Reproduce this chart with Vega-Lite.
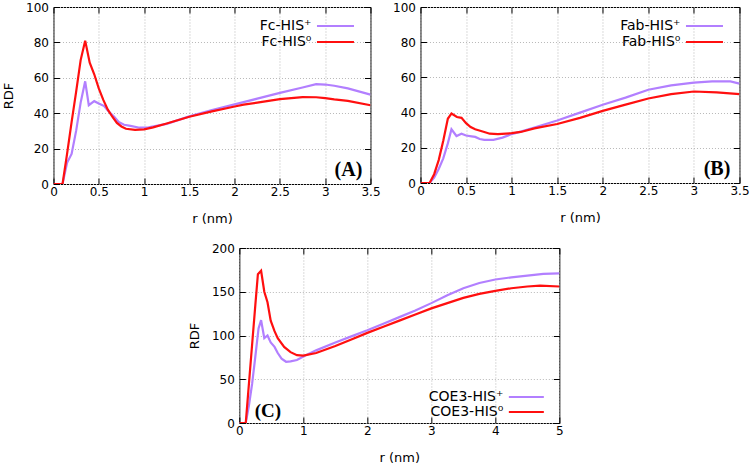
{
  "$schema": "https://vega.github.io/schema/vega-lite/v6.json",
  "padding": {"left": 2, "top": 0, "right": 0, "bottom": 0},
  "background": "white",
  "config": {
    "font": "DejaVu Sans",
    "view": {"stroke": "black", "strokeWidth": 1},
    "axis": {
      "domain": false, "grid": true, "gridColor": "#b8b8b8", "gridDash": [1, 2], "gridWidth": 1,
      "tickColor": "black", "tickSize": -6, "tickWidth": 1,
      "labelFontSize": 12, "labelColor": "black", "labelFlush": false,
      "titleFontSize": 13, "titleFontWeight": "normal", "titleColor": "black"
    },
    "axisX": {"labelPadding": 8, "titlePadding": 15},
    "axisY": {"labelPadding": 11, "titlePadding": 10},
    "legend": {"labelFontSize": 14, "labelColor": "black", "labelLimit": 0}
  },
  "datasets": {
    "A": [
      {"s": "Fc-HIS⁺", "r": 0, "g": 0}, {"s": "Fc-HIS⁺", "r": 0.05, "g": 0}, {"s": "Fc-HIS⁺", "r": 0.1, "g": 0},
      {"s": "Fc-HIS⁺", "r": 0.15, "g": 12}, {"s": "Fc-HIS⁺", "r": 0.2, "g": 17}, {"s": "Fc-HIS⁺", "r": 0.25, "g": 30},
      {"s": "Fc-HIS⁺", "r": 0.3, "g": 46}, {"s": "Fc-HIS⁺", "r": 0.35, "g": 58}, {"s": "Fc-HIS⁺", "r": 0.39, "g": 44.5},
      {"s": "Fc-HIS⁺", "r": 0.45, "g": 46.8}, {"s": "Fc-HIS⁺", "r": 0.5, "g": 45.5}, {"s": "Fc-HIS⁺", "r": 0.56, "g": 44},
      {"s": "Fc-HIS⁺", "r": 0.6, "g": 41.5}, {"s": "Fc-HIS⁺", "r": 0.67, "g": 38}, {"s": "Fc-HIS⁺", "r": 0.72, "g": 35},
      {"s": "Fc-HIS⁺", "r": 0.78, "g": 33.5}, {"s": "Fc-HIS⁺", "r": 0.85, "g": 32.8}, {"s": "Fc-HIS⁺", "r": 0.95, "g": 31.8},
      {"s": "Fc-HIS⁺", "r": 1.05, "g": 32}, {"s": "Fc-HIS⁺", "r": 1.25, "g": 34}, {"s": "Fc-HIS⁺", "r": 1.5, "g": 38.2},
      {"s": "Fc-HIS⁺", "r": 1.75, "g": 41.8}, {"s": "Fc-HIS⁺", "r": 2.0, "g": 45}, {"s": "Fc-HIS⁺", "r": 2.25, "g": 48.2},
      {"s": "Fc-HIS⁺", "r": 2.5, "g": 51.5}, {"s": "Fc-HIS⁺", "r": 2.75, "g": 54.5}, {"s": "Fc-HIS⁺", "r": 2.9, "g": 56.4},
      {"s": "Fc-HIS⁺", "r": 3.0, "g": 56.2}, {"s": "Fc-HIS⁺", "r": 3.1, "g": 55.5}, {"s": "Fc-HIS⁺", "r": 3.25, "g": 54},
      {"s": "Fc-HIS⁺", "r": 3.5, "g": 50.5},
      {"s": "Fc-HIS⁰", "r": 0, "g": 0}, {"s": "Fc-HIS⁰", "r": 0.05, "g": 0}, {"s": "Fc-HIS⁰", "r": 0.1, "g": 0},
      {"s": "Fc-HIS⁰", "r": 0.15, "g": 17}, {"s": "Fc-HIS⁰", "r": 0.2, "g": 35}, {"s": "Fc-HIS⁰", "r": 0.25, "g": 52},
      {"s": "Fc-HIS⁰", "r": 0.3, "g": 70}, {"s": "Fc-HIS⁰", "r": 0.35, "g": 81}, {"s": "Fc-HIS⁰", "r": 0.4, "g": 68.5},
      {"s": "Fc-HIS⁰", "r": 0.45, "g": 62}, {"s": "Fc-HIS⁰", "r": 0.5, "g": 54}, {"s": "Fc-HIS⁰", "r": 0.55, "g": 47.5},
      {"s": "Fc-HIS⁰", "r": 0.6, "g": 42}, {"s": "Fc-HIS⁰", "r": 0.65, "g": 38}, {"s": "Fc-HIS⁰", "r": 0.7, "g": 34.5},
      {"s": "Fc-HIS⁰", "r": 0.75, "g": 32.5}, {"s": "Fc-HIS⁰", "r": 0.8, "g": 31.2}, {"s": "Fc-HIS⁰", "r": 0.9, "g": 30.6},
      {"s": "Fc-HIS⁰", "r": 1.0, "g": 30.9}, {"s": "Fc-HIS⁰", "r": 1.1, "g": 32}, {"s": "Fc-HIS⁰", "r": 1.25, "g": 34.2},
      {"s": "Fc-HIS⁰", "r": 1.5, "g": 38}, {"s": "Fc-HIS⁰", "r": 1.75, "g": 41}, {"s": "Fc-HIS⁰", "r": 2.0, "g": 43.8},
      {"s": "Fc-HIS⁰", "r": 2.1, "g": 44.8}, {"s": "Fc-HIS⁰", "r": 2.25, "g": 46}, {"s": "Fc-HIS⁰", "r": 2.5, "g": 48},
      {"s": "Fc-HIS⁰", "r": 2.75, "g": 49.1}, {"s": "Fc-HIS⁰", "r": 2.9, "g": 49}, {"s": "Fc-HIS⁰", "r": 3.0, "g": 48.5},
      {"s": "Fc-HIS⁰", "r": 3.1, "g": 47.8}, {"s": "Fc-HIS⁰", "r": 3.25, "g": 47}, {"s": "Fc-HIS⁰", "r": 3.5, "g": 44.5}
    ],
    "B": [
      {"s": "Fab-HIS⁺", "r": 0, "g": 0}, {"s": "Fab-HIS⁺", "r": 0.05, "g": 0}, {"s": "Fab-HIS⁺", "r": 0.1, "g": 0},
      {"s": "Fab-HIS⁺", "r": 0.15, "g": 3}, {"s": "Fab-HIS⁺", "r": 0.2, "g": 8}, {"s": "Fab-HIS⁺", "r": 0.25, "g": 14},
      {"s": "Fab-HIS⁺", "r": 0.3, "g": 22.5}, {"s": "Fab-HIS⁺", "r": 0.34, "g": 30.5}, {"s": "Fab-HIS⁺", "r": 0.395, "g": 26.7},
      {"s": "Fab-HIS⁺", "r": 0.45, "g": 28}, {"s": "Fab-HIS⁺", "r": 0.5, "g": 27}, {"s": "Fab-HIS⁺", "r": 0.56, "g": 26.5},
      {"s": "Fab-HIS⁺", "r": 0.6, "g": 26.2}, {"s": "Fab-HIS⁺", "r": 0.65, "g": 25}, {"s": "Fab-HIS⁺", "r": 0.7, "g": 24.5},
      {"s": "Fab-HIS⁺", "r": 0.8, "g": 24.5}, {"s": "Fab-HIS⁺", "r": 0.9, "g": 25.8}, {"s": "Fab-HIS⁺", "r": 1.0, "g": 27.8},
      {"s": "Fab-HIS⁺", "r": 1.1, "g": 29.2}, {"s": "Fab-HIS⁺", "r": 1.25, "g": 31.5}, {"s": "Fab-HIS⁺", "r": 1.5, "g": 35.5},
      {"s": "Fab-HIS⁺", "r": 1.75, "g": 40}, {"s": "Fab-HIS⁺", "r": 2.0, "g": 44.5}, {"s": "Fab-HIS⁺", "r": 2.25, "g": 48.5},
      {"s": "Fab-HIS⁺", "r": 2.5, "g": 53}, {"s": "Fab-HIS⁺", "r": 2.75, "g": 55.5}, {"s": "Fab-HIS⁺", "r": 3.0, "g": 57},
      {"s": "Fab-HIS⁺", "r": 3.2, "g": 57.7}, {"s": "Fab-HIS⁺", "r": 3.4, "g": 57.7}, {"s": "Fab-HIS⁺", "r": 3.5, "g": 56.5},
      {"s": "Fab-HIS⁰", "r": 0, "g": 0}, {"s": "Fab-HIS⁰", "r": 0.05, "g": 0}, {"s": "Fab-HIS⁰", "r": 0.1, "g": 0},
      {"s": "Fab-HIS⁰", "r": 0.15, "g": 5}, {"s": "Fab-HIS⁰", "r": 0.2, "g": 13}, {"s": "Fab-HIS⁰", "r": 0.25, "g": 24},
      {"s": "Fab-HIS⁰", "r": 0.3, "g": 36.5}, {"s": "Fab-HIS⁰", "r": 0.34, "g": 39.5}, {"s": "Fab-HIS⁰", "r": 0.4, "g": 37.5},
      {"s": "Fab-HIS⁰", "r": 0.45, "g": 37}, {"s": "Fab-HIS⁰", "r": 0.5, "g": 34}, {"s": "Fab-HIS⁰", "r": 0.55, "g": 31.8},
      {"s": "Fab-HIS⁰", "r": 0.6, "g": 30.5}, {"s": "Fab-HIS⁰", "r": 0.7, "g": 29}, {"s": "Fab-HIS⁰", "r": 0.76, "g": 28},
      {"s": "Fab-HIS⁰", "r": 0.85, "g": 27.8}, {"s": "Fab-HIS⁰", "r": 1.0, "g": 28.3}, {"s": "Fab-HIS⁰", "r": 1.1, "g": 29},
      {"s": "Fab-HIS⁰", "r": 1.25, "g": 31}, {"s": "Fab-HIS⁰", "r": 1.5, "g": 33.5}, {"s": "Fab-HIS⁰", "r": 1.75, "g": 37},
      {"s": "Fab-HIS⁰", "r": 2.0, "g": 41}, {"s": "Fab-HIS⁰", "r": 2.25, "g": 44.5}, {"s": "Fab-HIS⁰", "r": 2.5, "g": 48},
      {"s": "Fab-HIS⁰", "r": 2.75, "g": 50.5}, {"s": "Fab-HIS⁰", "r": 3.0, "g": 52}, {"s": "Fab-HIS⁰", "r": 3.25, "g": 51.5},
      {"s": "Fab-HIS⁰", "r": 3.5, "g": 50.5}
    ],
    "C": [
      {"s": "COE3-HIS⁺", "r": 0, "g": 0}, {"s": "COE3-HIS⁺", "r": 0.05, "g": 0}, {"s": "COE3-HIS⁺", "r": 0.1, "g": 0},
      {"s": "COE3-HIS⁺", "r": 0.15, "g": 20}, {"s": "COE3-HIS⁺", "r": 0.2, "g": 45}, {"s": "COE3-HIS⁺", "r": 0.25, "g": 76},
      {"s": "COE3-HIS⁺", "r": 0.3, "g": 108}, {"s": "COE3-HIS⁺", "r": 0.34, "g": 117.5}, {"s": "COE3-HIS⁺", "r": 0.39, "g": 97},
      {"s": "COE3-HIS⁺", "r": 0.44, "g": 100}, {"s": "COE3-HIS⁺", "r": 0.49, "g": 92}, {"s": "COE3-HIS⁺", "r": 0.55, "g": 87},
      {"s": "COE3-HIS⁺", "r": 0.6, "g": 80}, {"s": "COE3-HIS⁺", "r": 0.66, "g": 73.5}, {"s": "COE3-HIS⁺", "r": 0.73, "g": 70},
      {"s": "COE3-HIS⁺", "r": 0.8, "g": 70.5}, {"s": "COE3-HIS⁺", "r": 0.9, "g": 72}, {"s": "COE3-HIS⁺", "r": 1.0, "g": 76},
      {"s": "COE3-HIS⁺", "r": 1.2, "g": 83}, {"s": "COE3-HIS⁺", "r": 1.5, "g": 92}, {"s": "COE3-HIS⁺", "r": 1.75, "g": 99},
      {"s": "COE3-HIS⁺", "r": 2.0, "g": 106}, {"s": "COE3-HIS⁺", "r": 2.25, "g": 113.5}, {"s": "COE3-HIS⁺", "r": 2.5, "g": 121},
      {"s": "COE3-HIS⁺", "r": 2.75, "g": 128.5}, {"s": "COE3-HIS⁺", "r": 3.0, "g": 137}, {"s": "COE3-HIS⁺", "r": 3.25, "g": 146},
      {"s": "COE3-HIS⁺", "r": 3.5, "g": 154}, {"s": "COE3-HIS⁺", "r": 3.75, "g": 160}, {"s": "COE3-HIS⁺", "r": 4.0, "g": 164},
      {"s": "COE3-HIS⁺", "r": 4.25, "g": 166.5}, {"s": "COE3-HIS⁺", "r": 4.5, "g": 168.5}, {"s": "COE3-HIS⁺", "r": 4.75, "g": 170.5},
      {"s": "COE3-HIS⁺", "r": 5.0, "g": 171},
      {"s": "COE3-HIS⁰", "r": 0, "g": 0}, {"s": "COE3-HIS⁰", "r": 0.05, "g": 0}, {"s": "COE3-HIS⁰", "r": 0.1, "g": 0},
      {"s": "COE3-HIS⁰", "r": 0.15, "g": 45}, {"s": "COE3-HIS⁰", "r": 0.2, "g": 90}, {"s": "COE3-HIS⁰", "r": 0.25, "g": 135},
      {"s": "COE3-HIS⁰", "r": 0.29, "g": 170}, {"s": "COE3-HIS⁰", "r": 0.34, "g": 174}, {"s": "COE3-HIS⁰", "r": 0.39, "g": 150},
      {"s": "COE3-HIS⁰", "r": 0.44, "g": 138}, {"s": "COE3-HIS⁰", "r": 0.49, "g": 117}, {"s": "COE3-HIS⁰", "r": 0.55, "g": 105},
      {"s": "COE3-HIS⁰", "r": 0.6, "g": 97}, {"s": "COE3-HIS⁰", "r": 0.7, "g": 87}, {"s": "COE3-HIS⁰", "r": 0.8, "g": 81},
      {"s": "COE3-HIS⁰", "r": 0.9, "g": 77.5}, {"s": "COE3-HIS⁰", "r": 1.0, "g": 77}, {"s": "COE3-HIS⁰", "r": 1.2, "g": 80},
      {"s": "COE3-HIS⁰", "r": 1.5, "g": 88}, {"s": "COE3-HIS⁰", "r": 1.75, "g": 95.5}, {"s": "COE3-HIS⁰", "r": 2.0, "g": 103},
      {"s": "COE3-HIS⁰", "r": 2.25, "g": 110}, {"s": "COE3-HIS⁰", "r": 2.5, "g": 117}, {"s": "COE3-HIS⁰", "r": 2.75, "g": 124},
      {"s": "COE3-HIS⁰", "r": 3.0, "g": 131}, {"s": "COE3-HIS⁰", "r": 3.25, "g": 137}, {"s": "COE3-HIS⁰", "r": 3.5, "g": 143},
      {"s": "COE3-HIS⁰", "r": 3.75, "g": 147.5}, {"s": "COE3-HIS⁰", "r": 4.0, "g": 151}, {"s": "COE3-HIS⁰", "r": 4.25, "g": 154},
      {"s": "COE3-HIS⁰", "r": 4.5, "g": 156}, {"s": "COE3-HIS⁰", "r": 4.7, "g": 157}, {"s": "COE3-HIS⁰", "r": 5.0, "g": 156}
    ]
  },
  "center": true,
  "spacing": 15,
  "resolve": {"scale": {"color": "independent"}, "legend": {"color": "independent"}},
  "vconcat": [
    {
      "spacing": 10,
      "resolve": {"scale": {"color": "independent"}, "legend": {"color": "independent"}},
      "hconcat": [
        {
          "width": 317, "height": 177,
          "data": {"name": "A"},
          "layer": [
            {
              "mark": {"type": "line", "strokeWidth": 2.2, "clip": true},
              "encoding": {
                "x": {"field": "r", "type": "quantitative", "scale": {"domain": [0, 3.5], "nice": false},
                      "axis": {"values": [0, 0.5, 1, 1.5, 2, 2.5, 3, 3.5], "format": "~g", "title": "r (nm)"}},
                "y": {"field": "g", "type": "quantitative", "scale": {"domain": [0, 100], "nice": false},
                      "axis": {"values": [0, 20, 40, 60, 80, 100], "title": "RDF"}},
                "color": {"field": "s", "type": "nominal",
                          "scale": {"domain": ["Fc-HIS⁺", "Fc-HIS⁰"], "range": ["#b27fff", "#ff0f0f"]},
                          "legend": {"title": null, "orient": "top-right", "offset": 12, "padding": 0,
                                     "symbolType": "M-3.7,0H3.7", "symbolSize": 100, "symbolStrokeWidth": 2.2,
                                     "labelAlign": "right", "labelOffset": -31, "rowPadding": 2}}
              }
            },
            {
              "data": {"values": [{"t": "(A)"}]},
              "mark": {"type": "text", "font": "Liberation Serif", "fontWeight": "bold", "fontSize": 20, "align": "right", "baseline": "alphabetic"},
              "encoding": {
                "text": {"field": "t"},
                "x": {"datum": 3.41, "type": "quantitative", "axis": {"orient": "top", "values": [0, 0.5, 1, 1.5, 2, 2.5, 3, 3.5], "labels": false, "grid": false, "title": null}},
                "y": {"datum": 4.7, "type": "quantitative", "axis": {"orient": "right", "values": [0, 20, 40, 60, 80, 100], "labels": false, "grid": false, "title": null}}
              }
            }
          ],
          "resolve": {"axis": {"x": "independent", "y": "independent"}}
        },
        {
          "width": 319, "height": 176,
          "data": {"name": "B"},
          "layer": [
            {
              "mark": {"type": "line", "strokeWidth": 2.2, "clip": true},
              "encoding": {
                "x": {"field": "r", "type": "quantitative", "scale": {"domain": [0, 3.5], "nice": false},
                      "axis": {"values": [0, 0.5, 1, 1.5, 2, 2.5, 3, 3.5], "format": "~g", "title": "r (nm)"}},
                "y": {"field": "g", "type": "quantitative", "scale": {"domain": [0, 100], "nice": false},
                      "axis": {"values": [0, 20, 40, 60, 80, 100], "title": null}},
                "color": {"field": "s", "type": "nominal",
                          "scale": {"domain": ["Fab-HIS⁺", "Fab-HIS⁰"], "range": ["#b27fff", "#ff0f0f"]},
                          "legend": {"title": null, "orient": "top-right", "offset": 12, "padding": 0,
                                     "symbolType": "M-3.7,0H3.7", "symbolSize": 100, "symbolStrokeWidth": 2.2,
                                     "labelAlign": "right", "labelOffset": -31, "rowPadding": 2}}
              }
            },
            {
              "data": {"values": [{"t": "(B)"}]},
              "mark": {"type": "text", "font": "Liberation Serif", "fontWeight": "bold", "fontSize": 20, "align": "right", "baseline": "alphabetic"},
              "encoding": {
                "text": {"field": "t"},
                "x": {"datum": 3.4, "type": "quantitative", "axis": {"orient": "top", "values": [0, 0.5, 1, 1.5, 2, 2.5, 3, 3.5], "labels": false, "grid": false, "title": null}},
                "y": {"datum": 4.5, "type": "quantitative", "axis": {"orient": "right", "values": [0, 20, 40, 60, 80, 100], "labels": false, "grid": false, "title": null}}
              }
            }
          ],
          "resolve": {"axis": {"x": "independent", "y": "independent"}}
        }
      ]
    },
    {
      "width": 320, "height": 175,
      "data": {"name": "C"},
      "layer": [
        {
          "mark": {"type": "line", "strokeWidth": 2.2, "clip": true},
          "encoding": {
            "x": {"field": "r", "type": "quantitative", "scale": {"domain": [0, 5], "nice": false},
                  "axis": {"values": [0, 1, 2, 3, 4, 5], "format": "~g", "title": "r (nm)"}},
            "y": {"field": "g", "type": "quantitative", "scale": {"domain": [0, 200], "nice": false},
                  "axis": {"values": [0, 50, 100, 150, 200], "title": "RDF"}},
            "color": {"field": "s", "type": "nominal",
                      "scale": {"domain": ["COE3-HIS⁺", "COE3-HIS⁰"], "range": ["#b27fff", "#ff0f0f"]},
                      "legend": {"title": null, "orient": "none", "legendX": 280, "legendY": 142, "padding": 0,
                                 "symbolType": "M-3.5,0H3.5", "symbolSize": 100, "symbolStrokeWidth": 2.2,
                                 "labelAlign": "right", "labelOffset": -30, "rowPadding": 1}}
          }
        },
        {
          "data": {"values": [{"t": "(C)"}]},
          "mark": {"type": "text", "font": "Liberation Serif", "fontWeight": "bold", "fontSize": 19, "align": "left", "baseline": "alphabetic"},
          "encoding": {
            "text": {"field": "t"},
            "x": {"datum": 0.24, "type": "quantitative", "axis": {"orient": "top", "values": [0, 1, 2, 3, 4, 5], "labels": false, "grid": false, "title": null}},
            "y": {"datum": 6.5, "type": "quantitative", "axis": {"orient": "right", "values": [0, 50, 100, 150, 200], "labels": false, "grid": false, "title": null}}
          }
        }
      ],
      "resolve": {"axis": {"x": "independent", "y": "independent"}}
    }
  ]
}
